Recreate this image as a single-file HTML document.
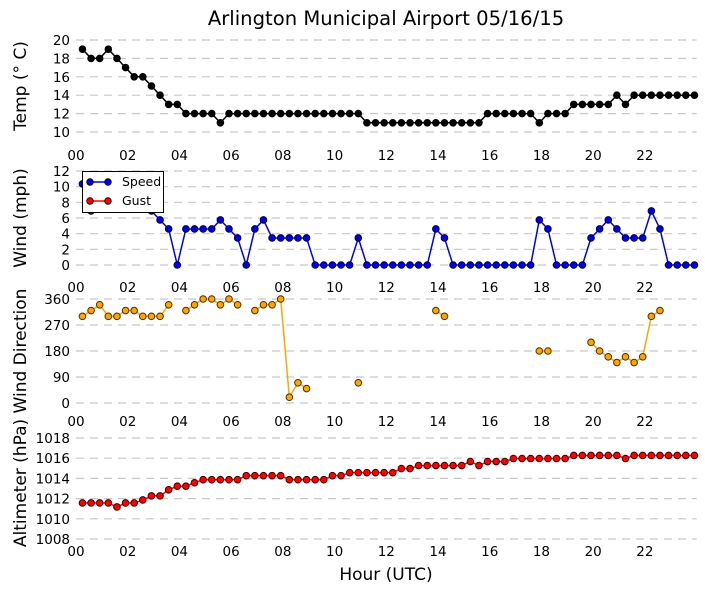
<!DOCTYPE html>
<html><head><meta charset="utf-8">
<style>
html,body{margin:0;padding:0;background:#fff;}
svg{display:block;font-family:"DejaVu Sans","Liberation Sans",sans-serif;}
</style></head>
<body>
<svg id="chart" width="705" height="594" viewBox="0 0 705 594" xmlns="http://www.w3.org/2000/svg">
<text x="386" y="25" font-size="19.6" text-anchor="middle">Arlington Municipal Airport 05/16/15</text>
<text x="386" y="580" font-size="17" text-anchor="middle">Hour (UTC)</text>
<g id="layer"></g>
</svg>
<script>
const times = ["00:15","00:35","00:55","01:15","01:35","01:55","02:15","02:35","02:55","03:15","03:35","03:55","04:15","04:35","04:55","05:15","05:35","05:55","06:15","06:35","06:55","07:15","07:35","07:55","08:15","08:35","08:55","09:15","09:35","09:55","10:15","10:35","10:55","11:15","11:35","11:55","12:15","12:35","12:55","13:15","13:35","13:55","14:15","14:35","14:55","15:15","15:35","15:55","16:15","16:35","16:55","17:15","17:35","17:55","18:15","18:35","18:55","19:15","19:35","19:55","20:15","20:35","20:55","21:15","21:35","21:55","22:15","22:35","22:55","23:15","23:35","23:55"];
const temp = [19,18,18,19,18,17,16,16,15,14,13,13,12,12,12,12,11,12,12,12,12,12,12,12,12,12,12,12,12,12,12,12,12,11,11,11,11,11,11,11,11,11,11,11,11,11,11,12,12,12,12,12,12,11,12,12,12,13,13,13,13,13,14,13,14,14,14,14,14,14,14,14];
const speed = [10.35,6.9,8.05,8.05,8.05,8.05,8.05,8.05,6.9,5.75,4.6,0,4.6,4.6,4.6,4.6,5.75,4.6,3.45,0,4.6,5.75,3.45,3.45,3.45,3.45,3.45,0,0,0,0,0,3.45,0,0,0,0,0,0,0,0,4.6,3.45,0,0,0,0,0,0,0,0,0,0,5.75,4.6,0,0,0,0,3.45,4.6,5.75,4.6,3.45,3.45,3.45,6.9,4.6,0,0,0,0];
const gust = [];
const direction = [300,320,340,300,300,320,320,300,300,300,340,null,320,340,360,360,340,360,340,null,320,340,340,360,20,70,50,null,null,null,null,null,70,null,null,null,null,null,null,null,null,320,300,null,null,null,null,null,null,null,null,null,null,180,180,null,null,null,null,210,180,160,140,160,140,160,300,320,null,null,null,null];
const altimeter = [1011.57,1011.57,1011.57,1011.57,1011.17,1011.57,1011.57,1011.87,1012.27,1012.27,1012.87,1013.23,1013.23,1013.57,1013.87,1013.87,1013.87,1013.87,1013.87,1014.27,1014.27,1014.27,1014.27,1014.27,1013.87,1013.87,1013.87,1013.87,1013.87,1014.27,1014.27,1014.57,1014.57,1014.57,1014.57,1014.57,1014.57,1014.97,1014.97,1015.27,1015.27,1015.27,1015.27,1015.27,1015.27,1015.67,1015.27,1015.67,1015.67,1015.67,1015.97,1015.97,1015.97,1015.97,1015.97,1015.97,1015.97,1016.27,1016.27,1016.27,1016.27,1016.27,1016.27,1015.97,1016.27,1016.27,1016.27,1016.27,1016.27,1016.27,1016.27,1016.27];
const xTickLabels = ["00","02","04","06","08","10","12","14","16","18","20","22"];
const tempTicks = [10,12,14,16,18,20];
const windTicks = [0,2,4,6,8,10,12];
const dirTicks = [0,90,180,270,360];
const altTicks = [1008,1010,1012,1014,1016,1018];

const NS = "http://www.w3.org/2000/svg";
const layer = document.getElementById('layer');
const X0 = 76, X1 = 696.6;
function xScale(h){ return X0 + (X1 - X0) * h / 24; }
function hourOf(s){ const p = s.split(':'); return +p[0] + (+p[1]) / 60; }
function mk(tag, attrs, parent){ const e = document.createElementNS(NS, tag); for (const k in attrs) e.setAttribute(k, attrs[k]); (parent || layer).appendChild(e); return e; }

const panels = [
  {name:'temp', title:'Temp (\u00b0 C)', top:40, bottom:132, min:10, max:20, ticks:tempTicks, xlab:155, tcy:86},
  {name:'wind', title:'Wind (mph)', top:171, bottom:265, min:0, max:12, ticks:windTicks, xlab:287, tcy:218},
  {name:'direction', title:'Wind Direction', top:299, bottom:403, min:0, max:360, ticks:dirTicks, xlab:421, tcy:351},
  {name:'altimeter', title:'Altimeter (hPa)', top:438, bottom:539, min:1008, max:1018, ticks:altTicks, xlab:551, tcy:483}
];

function yScaleFor(p){ return v => p.bottom - (v - p.min) / (p.max - p.min) * (p.bottom - p.top); }

function drawAxes(p){
  const y = yScaleFor(p);
  const g = mk('g', {});
  
  
  p.ticks.forEach(t => {
    const ln = mk('line', {x1:X0, x2:X1, y1:y(t), y2:y(t), stroke:'#c8c8c8', 'stroke-width':1.2, 'stroke-dasharray':'8,6'}, g);
    
    
    const tx = mk('text', {x:70, y:y(t) + 5, 'font-size':13.5, 'text-anchor':'end'}, g);
    
    
    tx.textContent = t;
  });
  xTickLabels.forEach(l => {
    const tx = mk('text', {x:xScale(+l), y:p.xlab + 5, 'font-size':13.5, 'text-anchor':'middle'}, g);
    
    
    tx.textContent = l;
  });
  const ttl = mk('text', {x:0, y:0, 'font-size':17, 'text-anchor':'middle', transform:'translate(26,' + p.tcy + ') rotate(-90)'}, g);
  
  
  ttl.textContent = p.title;
}

function drawSeries(p, vals, color, edge, name){
  const y = yScaleFor(p);
  const g = mk('g', {});
  
  
  let seg = [];
  const flush = () => {
    if (seg.length > 1) {
      const pl = mk('polyline', {points:seg.join(' '), fill:'none', stroke:color, 'stroke-width':1.5}, g);
      
      
    }
    seg = [];
  };
  vals.forEach((v, i) => {
    if (v === null || v === undefined) { flush(); return; }
    seg.push(xScale(hourOf(times[i])).toFixed(2) + ',' + y(v).toFixed(2));
  });
  flush();
  vals.forEach((v, i) => {
    if (v === null || v === undefined) return;
    const c = mk('circle', {cx:xScale(hourOf(times[i])), cy:y(v), r:3.3, fill:color, stroke:edge, 'stroke-width':1}, g);
    
    
  });
}

panels.forEach(drawAxes);
drawSeries(panels[0], temp, '#000000', '#000000', 'temperature');
drawSeries(panels[1], speed, '#0000ee', '#000033', 'wind-speed');
drawSeries(panels[1], gust, '#ff0000', '#330000', 'wind-gust');
drawSeries(panels[2], direction, '#ffa500', '#4a3000', 'wind-direction');
drawSeries(panels[3], altimeter, '#ff0000', '#3a0000', 'altimeter');

// legend
const lg = mk('g', {});


mk('rect', {x:82.5, y:171.5, width:81, height:41, fill:'#fff', stroke:'#000', 'stroke-width':1}, lg);
[['Speed', '#0000ee', 186], ['Gust', '#ff0000', 205]].forEach(e => {
  const eg = mk('g', {}, lg);
  
  
  mk('line', {x1:90, x2:108, y1:e[2] - 4, y2:e[2] - 4, stroke:e[1], 'stroke-width':1.5}, eg);
  mk('circle', {cx:90, cy:e[2] - 4, r:3.3, fill:e[1], stroke:'#000', 'stroke-width':0.8}, eg);
  mk('circle', {cx:108, cy:e[2] - 4, r:3.3, fill:e[1], stroke:'#000', 'stroke-width':0.8}, eg);
  const t = mk('text', {x:122, y:e[2], 'font-size':12.5}, eg);
  t.textContent = e[0];
});
</script>
</body></html>
